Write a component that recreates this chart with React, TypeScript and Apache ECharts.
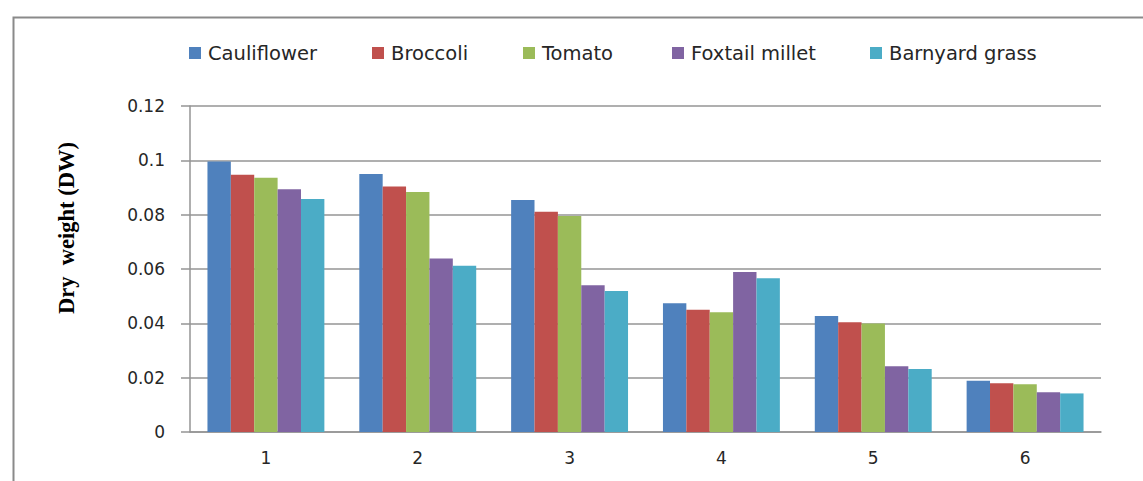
import React, { useEffect, useRef } from "react";
import * as echarts from "echarts";

// Sampling stages on the x axis
const categories = ["1", "2", "3", "4", "5", "6"];

// Dry weight per crop / weed at each stage
const cauliflower = [0.0996, 0.095, 0.0854, 0.0474, 0.0427, 0.0189];
const broccoli = [0.0947, 0.0904, 0.0811, 0.045, 0.0404, 0.0179];
const tomato = [0.0936, 0.0883, 0.0795, 0.0441, 0.0399, 0.0176];
const foxtailMillet = [0.0894, 0.0639, 0.054, 0.0589, 0.0242, 0.0146];
const barnyardGrass = [0.0858, 0.0612, 0.0519, 0.0566, 0.0232, 0.0142];

const seriesNames = ["Cauliflower", "Broccoli", "Tomato", "Foxtail millet", "Barnyard grass"];
const seriesValues = [cauliflower, broccoli, tomato, foxtailMillet, barnyardGrass];
const seriesColors = ["#4F81BD", "#C0504D", "#9BBB59", "#8064A2", "#4BACC6"];

// Left edge of each legend entry
const legendLefts = [189, 372, 523, 672, 870];

const yAxisTitle = "Dry  weight (DW)";

export default function App() {
  const ref = useRef<HTMLDivElement>(null);

  useEffect(() => {
    if (!ref.current) return;
    const chart = echarts.init(ref.current, null, { renderer: "svg" });
    const textColor = "#262626";
    const gridColor = "#959595";

    chart.setOption({
      animation: false,
      backgroundColor: "#ffffff",
      textStyle: { fontFamily: "DejaVu Sans" },
      legend: seriesNames.map((name, i) => ({
        data: [name],
        left: legendLefts[i],
        top: 43,
        icon: "rect",
        itemWidth: 12,
        itemHeight: 12,
        itemGap: 0,
        padding: 0,
        textStyle: { fontSize: 19.5, color: textColor, fontFamily: "DejaVu Sans", padding: [0, 0, 0, 2] },
      })),
      grid: { left: 190, right: 42, top: 106, bottom: 49, containLabel: false },
      xAxis: {
        type: "category",
        data: categories,
        axisLine: { show: true, lineStyle: { color: gridColor, width: 1.5 } },
        axisTick: { show: false },
        axisLabel: { color: textColor, fontSize: 17, margin: 17, fontFamily: "DejaVu Sans" },
        splitLine: { show: false },
      },
      yAxis: {
        type: "value",
        min: 0,
        max: 0.12,
        interval: 0.02,
        axisLine: { show: true, lineStyle: { color: gridColor, width: 1.5 } },
        axisTick: { show: true, length: 9, lineStyle: { color: gridColor, width: 1.5 } },
        axisLabel: {
          color: textColor,
          fontSize: 17,
          margin: 25,
          fontFamily: "DejaVu Sans",
          formatter: (v: number) => (v === 0 ? "0" : String(parseFloat(v.toFixed(2)))),
        },
        splitLine: { show: true, lineStyle: { color: gridColor, width: 1.5 } },
      },
      series: seriesNames.map((name, i) => ({
        name,
        type: "bar",
        data: seriesValues[i],
        barGap: "0%",
        barCategoryGap: "23%",
        itemStyle: { color: seriesColors[i] },
      })),
      graphic: [
        {
          type: "rect",
          left: 11,
          top: 15,
          shape: { width: 1200, height: 520 },
          style: { fill: "none", stroke: "#8a8a8a", lineWidth: 2 },
          silent: true,
          z: -10,
        },
        {
          type: "text",
          x: 66,
          y: 228,
          rotation: Math.PI / 2,
          style: {
            text: yAxisTitle,
            fontFamily: "Liberation Serif",
            fontWeight: "bold",
            fontSize: 22.5,
            fill: "#000000",
            textAlign: "center",
            textVerticalAlign: "middle",
          },
          silent: true,
        },
      ],
    });

    return () => chart.dispose();
  }, []);

  return (
    <div
      ref={ref}
      style={{ position: "absolute", left: 0, top: 0, width: 1143, height: 481 }}
    />
  );
}
